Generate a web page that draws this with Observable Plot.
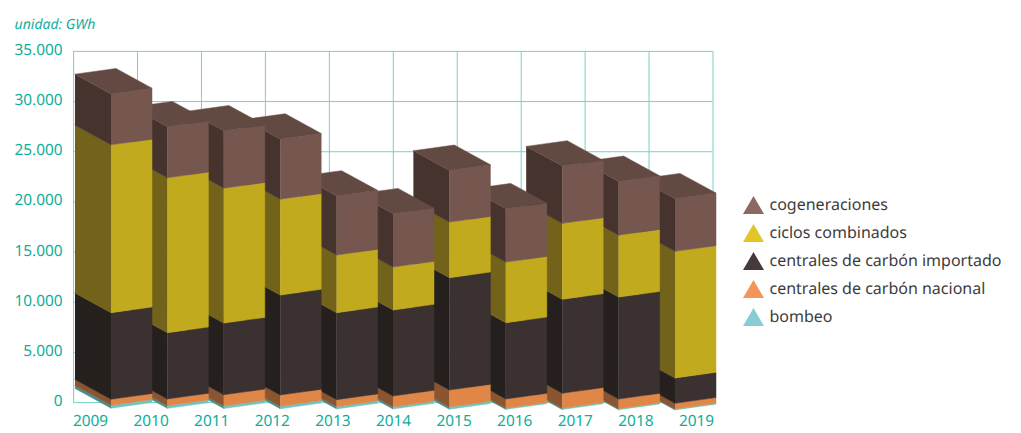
<!DOCTYPE html>
<html lang="es">
<head>
<meta charset="utf-8">
<script src="https://cdn.jsdelivr.net/npm/d3@7"></script>
<script src="https://cdn.jsdelivr.net/npm/@observablehq/plot@0.6"></script>
<style>
html,body{margin:0;padding:0;background:#fff;}
#wrap{position:relative;width:1021px;height:433px;overflow:hidden;font-family:"Noto Sans",sans-serif;text-rendering:geometricPrecision;}
#wrap svg text{text-rendering:geometricPrecision;}
#legend{position:absolute;left:743px;top:190px;color:#3c3c3c;font-size:16px;}
#legend .row{display:flex;align-items:center;height:28px;white-space:nowrap;}
#legend .tri{width:21px;height:18px;margin-right:5.5px;clip-path:polygon(50% 0,100% 100%,0 100%);position:relative;top:1px;}
</style>
</head>
<body>
<div id="wrap"><div id="legend"></div></div>
<script>
const years = [2009,2010,2011,2012,2013,2014,2015,2016,2017,2018,2019];
const bombeo          = [290,270,250,240,220,205,220,110,130,100,90];
const carbonNacional  = [600,670,1125,1125,700,1095,1695,925,1495,965,570];
const carbonImportado = [8625,6600,7140,9960,8665,8565,11185,7600,9360,10160,2520];
const ciclosCombinados= [16730,15440,13450,9560,5750,4285,5550,6045,7570,6175,12620];
const cogeneraciones  = [5080,5080,5710,5980,5875,5310,5150,5310,5710,5350,5240];
const yTicks = [0,5000,10000,15000,20000,25000,30000,35000];

const seriesNames = ["bombeo","centrales de carbón nacional","centrales de carbón importado","ciclos combinados","cogeneraciones"];
const seriesValues = [bombeo,carbonNacional,carbonImportado,ciclosCombinados,cogeneraciones];
const frontColors = ["#6fc5c4","#e08748","#3b3130","#c1aa1e","#76574f"];
const sideColors  = ["#4c8c8c","#8a5530","#25201d","#72621a","#46332d"];
const topColor = "#624a43";
const legendColors = ["#88cdd4","#f39559","#47393a","#e2c627","#8a6a62"];

// oblique projection of the stacked prisms, expressed in the units of the x and y scales
const pxX = 60.6, pxY = 351.2 / 35000;
const xDomain = [2009 - 16.9 / pxX, 2009 + (639.4 - 16.9) / pxX];
const bar = {start: 2009 + 20.5 / pxX, step: 56.4 / pxX, width: 41 / pxX, depthX: 36 / pxX, depthY: 19.7 / pxY, shear: 5.7 / pxY, base: -5.6 / pxY, drift: -0.17 / pxY};
const project = (i, along, depth, value) => ({
  x: bar.start + i * bar.step + along * bar.width - depth * bar.depthX,
  y: value + bar.base + i * bar.drift + along * bar.shear + depth * bar.depthY
});

const faces = [];
const addFace = (id, fill, corners) => corners.forEach(([i,a,d,v]) => faces.push({id, fill, ...project(i,a,d,v)}));
for (let i = years.length - 1; i >= 0; --i) {
  let v0 = 0;
  seriesValues.forEach((values, s) => {
    const v1 = v0 + values[i];
    addFace(`side-${i}-${s}`, sideColors[s], [[i,0,1,v0],[i,0,0,v0],[i,0,0,v1],[i,0,1,v1]]);
    addFace(`front-${i}-${s}`, frontColors[s], [[i,0,0,v0],[i,1,0,v0],[i,1,0,v1],[i,0,0,v1]]);
    v0 = v1;
  });
  addFace(`top-${i}`, topColor, [[i,0,0,v0],[i,1,0,v0],[i,1,1,v0],[i,0,1,v0]]);
}
const xGrid = d3.range(11).map(k => xDomain[0] + k * (xDomain[1] - xDomain[0]) / 10);
const teal = "#10ae9a", gridColor = "#72d3c5";

const chart = Plot.plot({
  width: 1021, height: 433,
  marginLeft: 73.1, marginRight: 308.5, marginTop: 50.9, marginBottom: 30.9,
  style: {background: "transparent", fontFamily: '"Noto Sans",sans-serif'},
  x: {domain: xDomain, axis: null},
  y: {domain: [0,35000], axis: null},
  color: {type: "identity"},
  marks: [
    Plot.ruleX(xGrid, {stroke: gridColor, strokeWidth: 1}),
    Plot.ruleY(yTicks, {stroke: gridColor, strokeWidth: 1}),
    Plot.line(faces, {x: "x", y: "y", z: "id", fill: "fill", stroke: "fill", strokeWidth: 0.5, curve: "linear"}),
    Plot.axisY({ticks: yTicks, tickSize: 0, tickPadding: 11, fontSize: 15.4, color: teal, dy: -1.5, label: null, tickFormat: d => d3.format(",")(d).replace(/,/g,".")}),
    Plot.axisX({ticks: years, tickSize: 0, tickPadding: 12.5, fontSize: 15.4, color: teal, label: null, tickFormat: d => String(d)}),
    Plot.text(["unidad: GWh"], {frameAnchor: "top-left", dx: -59, dy: -32, fontSize: 14, fontStyle: "italic", fill: teal, textAnchor: "start"})
  ]
});
document.getElementById("wrap").prepend(chart);
const legend = document.getElementById("legend");
[4,3,2,1,0].forEach(s => {
  const row = document.createElement("div"); row.className = "row";
  const tri = document.createElement("div"); tri.className = "tri"; tri.style.background = legendColors[s];
  const label = document.createElement("span"); label.textContent = seriesNames[s];
  row.append(tri,label); legend.append(row);
});
</script>
</body>
</html>
